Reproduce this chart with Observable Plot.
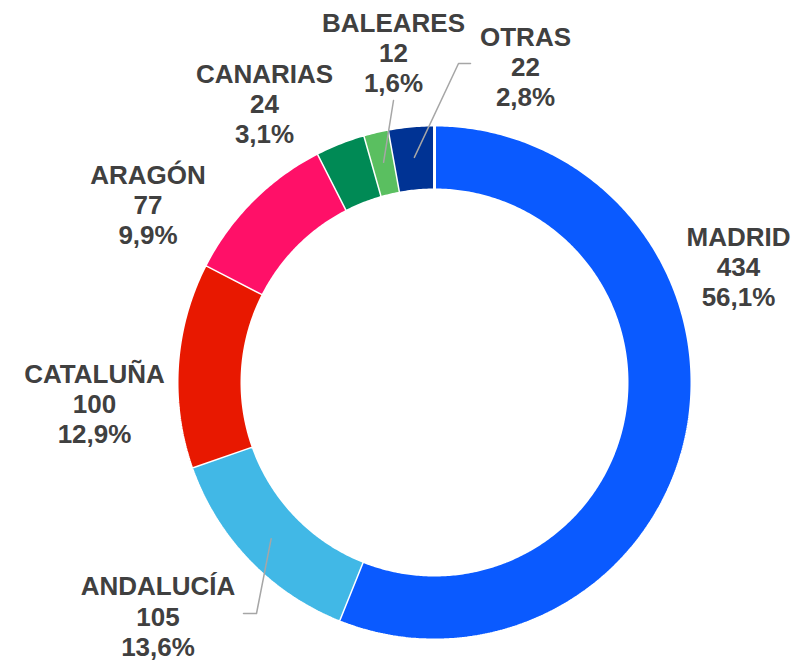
<!DOCTYPE html>
<html>
<head>
<meta charset="utf-8">
<script src="https://cdn.jsdelivr.net/npm/d3@7"></script>
<script src="https://cdn.jsdelivr.net/npm/@observablehq/plot@0.6"></script>
<style>
  html, body { margin: 0; padding: 0; background: #fff; }
  #chart { width: 795px; height: 661px; }
</style>
</head>
<body>
<div id="chart"></div>
<script>
// ---- data ----
const regions = ["MADRID", "ANDALUCÍA", "CATALUÑA", "ARAGÓN", "CANARIAS", "BALEARES", "OTRAS"];
const counts  = [434, 105, 100, 77, 24, 12, 22];
const colors  = ["#0A5AFF", "#41B8E6", "#E81800", "#FF1068", "#008A55", "#5ABF60", "#003394"];

// ---- layout ----
const W = 795, H = 661;
const cx = 434, cy = 382;
const rOuter = 257.5, rInner = 192.5;
// label anchor (center x, top of caps of first line)
const labelPos = [
  [738, 223.5], [157.5, 573], [94, 360.5], [147.5, 161.5],
  [264, 60.5], [393, 9.5], [525, 23.5]
];
// leader lines: [elbow, end] for slices that have them
const leaders = {
  "ANDALUCÍA": [[256, 613], [243, 613]],
  "BALEARES": [[393, 100]],
  "OTRAS": [[458, 63], [470, 63]]
};

const total = d3.sum(counts);
const pie = d3.pie().sort(null).value(d => d)(counts);

// ring polygons
const ringPts = [];
pie.forEach((p, i) => {
  const n = Math.max(8, Math.ceil((p.endAngle - p.startAngle) / 0.01));
  for (let k = 0; k <= n; k++) {
    const a = p.startAngle + (p.endAngle - p.startAngle) * k / n;
    ringPts.push({name: regions[i], x: cx + Math.sin(a) * rOuter, y: cy - Math.cos(a) * rOuter});
  }
  for (let k = n; k >= 0; k--) {
    const a = p.startAngle + (p.endAngle - p.startAngle) * k / n;
    ringPts.push({name: regions[i], x: cx + Math.sin(a) * rInner, y: cy - Math.cos(a) * rInner});
  }
});

const labels = regions.map((r, i) => ({
  text: `${r}\n${counts[i]}\n${(counts[i] / total * 100).toFixed(1).replace(".", ",")}%`,
  x: labelPos[i][0], y: labelPos[i][1]
}));

const leaderPts = [];
regions.forEach((r, i) => {
  if (!leaders[r]) return;
  const a = (pie[i].startAngle + pie[i].endAngle) / 2;
  const rm = 226;
  leaderPts.push({name: r, x: cx + Math.sin(a) * rm, y: cy - Math.cos(a) * rm});
  leaders[r].forEach(([x, y]) => leaderPts.push({name: r, x, y}));
});

const chart = Plot.plot({
  width: W, height: H,
  margin: 0,
  x: {domain: [0, W], range: [0, W], axis: null},
  y: {domain: [0, H], range: [0, H], axis: null},
  color: {domain: regions, range: colors},
  style: {fontFamily: "'Liberation Sans', Arial, sans-serif", background: "#fff"},
  marks: [
    Plot.line(ringPts, {x: "x", y: "y", z: "name", fill: "name", stroke: "white", strokeWidth: 3, strokeLinejoin: "miter", curve: "linear"}),
    Plot.line(leaderPts, {x: "x", y: "y", z: "name", stroke: "#A6A6A6", strokeWidth: 1.5, curve: "linear"}),
    Plot.text(labels, {x: "x", y: "y", text: "text", textAnchor: "middle", lineAnchor: "top",
      lineHeight: 1.17, fontSize: 26, fontWeight: "bold", fill: "#404040"})
  ]
});
document.getElementById("chart").appendChild(chart);
</script>
</body>
</html>
